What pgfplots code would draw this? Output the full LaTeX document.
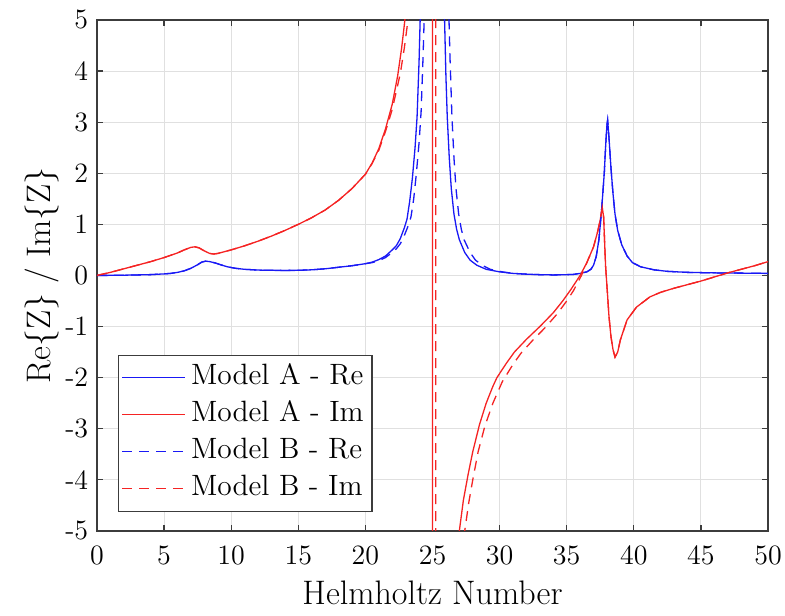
\documentclass[border=0pt]{standalone}
\usepackage{pgfplots}
\pgfplotsset{compat=1.18}
\definecolor{mblue}{RGB}{25,25,245}
\definecolor{mred}{RGB}{245,35,35}
\definecolor{axgray}{RGB}{60,60,60}
\begin{document}
\begin{tikzpicture}
\begin{axis}[
  scale only axis, width=335.5pt, height=255.5pt,
  xmin=0, xmax=50, ymin=-5, ymax=5,
  xtick={0,5,...,50}, ytick={-5,-4,...,5},
  yticklabels={-5,-4,-3,-2,-1,0,1,2,3,4,5},
  /pgf/number format/assume math mode=true,
  tick align=inside, tick pos=both, major tick length=3.2pt,
  grid=major, grid style={color=black!12, line width=0.5pt},
  axis line style={color=axgray, line width=0.6pt},
  tick style={color=axgray, line width=0.6pt},
  tick label style={font=\fontsize{14}{16}\selectfont},
  xticklabel style={yshift=-3.9pt},
  yticklabel style={xshift=-0.9pt},
  every axis x label/.style={at={(axis description cs:0.5,-0.1448)}, anchor=base, font=\fontsize{17}{20}\selectfont},
  every axis y label/.style={at={(axis description cs:-0.0700,0.5)}, anchor=base, rotate=90, font=\fontsize{17}{20}\selectfont},
  xlabel={Helmholtz Number},
  ylabel={Re\{Z\} / Im\{Z\}},
  legend style={at={(axis description cs:0.0313,0.0372)}, anchor=south west,
    draw, color=axgray, text=black, line width=0.6pt, fill=white, inner xsep=1.5pt, inner ysep=3pt,
    font=\fontsize{14.7}{17}\selectfont, row sep=2pt,
    nodes={inner xsep=2.6pt, inner ysep=0pt, text height=11.5pt, text depth=5pt, text=black}},
  legend cell align=left,
]
\addlegendimage{legend image code/.code={\draw[draw=mblue, line width=0.65pt] (0pt,0pt) -- (31.5pt,0pt);}}
\addlegendentry{Model A - Re\hspace{3pt}}
\addlegendimage{legend image code/.code={\draw[draw=mred, line width=0.65pt] (0pt,0pt) -- (31.5pt,0pt);}}
\addlegendentry{Model A - Im\hspace{3pt}}
\addlegendimage{legend image code/.code={\draw[draw=mblue, line width=0.65pt, dash pattern=on 5pt off 3.5pt] (0pt,0pt) -- (31.5pt,0pt);}}
\addlegendentry{Model B - Re\hspace{3pt}}
\addlegendimage{legend image code/.code={\draw[draw=mred, line width=0.65pt, dash pattern=on 5pt off 3.5pt] (0pt,0pt) -- (31.5pt,0pt);}}
\addlegendentry{Model B - Im\hspace{3pt}}
% Model A - Re
\addplot[mblue, line width=0.65pt, forget plot] coordinates {
(0,0) (1,0.002) (2,0.005) (3,0.01) (4,0.016) (5,0.03) (5.5,0.04) (6,0.06) (6.5,0.09) (7,0.14) (7.5,0.21) (7.8,0.26) (8.1,0.28) (8.4,0.27) (8.8,0.245) (9.2,0.21) (9.7,0.17) (10.3,0.14) (11,0.12) (12,0.105) (13,0.1) (14,0.098) (15,0.1) (16,0.11) (17,0.13) (18,0.16) (19,0.19) (20,0.23) (20.5,0.26) (21,0.31) (21.5,0.38) (22,0.5) (22.3,0.58) (22.6,0.72) (22.9,0.93) (23.1,1.1) (23.3,1.45) (23.5,1.9) (23.7,2.5) (23.85,3.1) (24.0,4.2) (24.1,5.2) (24.3,8) (24.6,15) (25,25) (25.4,15) (25.7,8) (25.9,5.0) (26.0,3.9) (26.1,3.1) (26.25,2.3) (26.4,1.7) (26.6,1.2) (26.8,0.9) (27.0,0.7) (27.4,0.45) (27.8,0.3) (28.3,0.2) (29,0.12) (30,0.07) (31,0.04) (32,0.025) (33,0.015) (34,0.01) (35,0.015) (35.5,0.02) (36,0.04) (36.5,0.07) (36.8,0.12) (37.0,0.2) (37.2,0.37) (37.4,0.7) (37.6,1.28) (37.8,2.0) (37.9,2.52) (38.0,2.95) (38.05,3.04) (38.15,2.7) (38.3,2.1) (38.45,1.6) (38.6,1.2) (38.8,0.88) (39.1,0.6) (39.5,0.38) (39.9,0.25) (40.5,0.17) (41.5,0.11) (42.5,0.08) (44,0.06) (46,0.05) (48,0.045) (50,0.04)
};
% Model A - Im
\addplot[mred, line width=0.65pt, forget plot] coordinates {
(0,0) (1,0.06) (2,0.13) (3,0.2) (4,0.27) (5,0.35) (6,0.44) (6.5,0.5) (7,0.55) (7.3,0.56) (7.6,0.54) (8,0.48) (8.4,0.43) (8.7,0.42) (9,0.43) (10,0.5) (11,0.58) (12,0.67) (13,0.77) (14,0.88) (15,1.0) (16,1.13) (17,1.28) (18,1.47) (19,1.7) (20,1.98) (20.5,2.2) (21,2.48) (21.5,2.87) (22,3.35) (22.4,3.9) (22.7,4.45) (22.9,4.9) (23.1,5.4) (23.6,7.5) (24,11) (24.5,20) (24.9,80) (24.99,100) (25.0,-100) (25.1,-100) (25.5,-20) (26,-10) (26.5,-6.7) (27.0,-5.0) (27.3,-4.4) (27.65,-3.9) (28.0,-3.45) (28.5,-2.92) (29.0,-2.5) (29.5,-2.17) (29.8,-2.0) (30.5,-1.72) (31.1,-1.5) (32,-1.25) (33,-1.0) (34,-0.73) (34.7,-0.5) (35.3,-0.28) (36.0,0.0) (36.5,0.25) (37.0,0.56) (37.3,0.85) (37.5,1.09) (37.65,1.33) (37.75,1.15) (37.9,0.17) (38.05,-0.4) (38.15,-0.8) (38.3,-1.2) (38.45,-1.45) (38.6,-1.6) (38.8,-1.5) (39.0,-1.26) (39.5,-0.87) (40.2,-0.62) (41.2,-0.42) (42,-0.33) (43,-0.25) (44,-0.18) (45,-0.11) (46,-0.03) (47,0.05) (48,0.12) (49,0.19) (50,0.27)
};
% Model B - Re
\addplot[mblue, line width=0.65pt, dash pattern=on 5pt off 3.5pt, forget plot] coordinates {
(0,0) (1,0.002) (2,0.005) (3,0.01) (4,0.016) (5,0.03) (5.5,0.04) (6,0.06) (6.5,0.09) (7,0.14) (7.5,0.21) (7.8,0.26) (8.1,0.28) (8.4,0.27) (8.8,0.245) (9.2,0.21) (9.7,0.17) (10.3,0.14) (11,0.12) (12,0.105) (13,0.1) (14,0.098) (15,0.1) (16,0.11) (17,0.13) (18,0.16) (19,0.19) (20,0.23) (20.5,0.25) (21,0.29) (21.5,0.35) (22,0.45) (22.3,0.52) (22.6,0.62) (22.9,0.78) (23.2,0.98) (23.4,1.15) (23.6,1.5) (23.8,2.0) (24.0,2.6) (24.15,3.2) (24.3,4.3) (24.4,5.2) (24.6,8) (25.0,15) (25.3,25) (25.7,15) (26.0,8) (26.2,5.3) (26.3,4.3) (26.45,3.1) (26.6,2.3) (26.75,1.7) (26.95,1.2) (27.15,0.9) (27.35,0.7) (27.8,0.45) (28.2,0.3) (28.7,0.2) (29.3,0.12) (30.2,0.07) (31,0.04) (32,0.025) (33,0.015) (34,0.01) (35,0.015) (35.5,0.02) (36,0.04) (36.5,0.07) (36.8,0.12) (37.0,0.2) (37.2,0.37) (37.4,0.7) (37.6,1.28) (37.8,2.0) (37.9,2.52) (38.0,2.95) (38.05,3.04) (38.15,2.7) (38.3,2.1) (38.45,1.6) (38.6,1.2) (38.8,0.88) (39.1,0.6) (39.5,0.38) (39.9,0.25) (40.5,0.17) (41.5,0.11) (42.5,0.08) (44,0.06) (46,0.05) (48,0.045) (50,0.04)
};
% Model B - Im
\addplot[mred, line width=0.65pt, dash pattern=on 5pt off 3.5pt, forget plot] coordinates {
(0,0) (1,0.06) (2,0.13) (3,0.2) (4,0.27) (5,0.35) (6,0.44) (6.5,0.5) (7,0.55) (7.3,0.56) (7.6,0.54) (8,0.48) (8.4,0.43) (8.7,0.42) (9,0.43) (10,0.5) (11,0.58) (12,0.67) (13,0.77) (14,0.88) (15,1.0) (16,1.13) (17,1.28) (18,1.47) (19,1.7) (20,1.98) (20.5,2.19) (21,2.45) (21.5,2.82) (22,3.25) (22.6,3.95) (22.9,4.45) (23.1,4.85) (23.3,5.3) (23.7,6.8) (24.2,10) (24.7,20) (25.15,80) (25.24,100) (25.25,-100) (25.35,-100) (25.8,-18) (26.3,-9) (26.8,-6.2) (27.4,-5.0) (27.7,-4.45) (28.0,-4.0) (28.4,-3.45) (28.9,-2.95) (29.5,-2.5) (30.2,-2.08) (31.0,-1.74) (31.6,-1.52) (32.5,-1.26) (33.4,-1.02) (34.3,-0.75) (35.0,-0.5) (35.5,-0.3) (36.1,0.0) (36.5,0.25) (37.0,0.56) (37.3,0.85) (37.5,1.09) (37.65,1.33) (37.75,1.15) (37.9,0.17) (38.05,-0.4) (38.15,-0.8) (38.3,-1.2) (38.45,-1.45) (38.6,-1.6) (38.8,-1.5) (39.0,-1.26) (39.5,-0.87) (40.2,-0.62) (41.2,-0.42) (42,-0.33) (43,-0.25) (44,-0.18) (45,-0.11) (46,-0.03) (47,0.05) (48,0.12) (49,0.19) (50,0.27)
};
\end{axis}
\pgfresetboundingbox
\path[use as bounding box] (-48.5pt,-42pt) rectangle (344pt,265.5pt);
\end{tikzpicture}
\end{document}
